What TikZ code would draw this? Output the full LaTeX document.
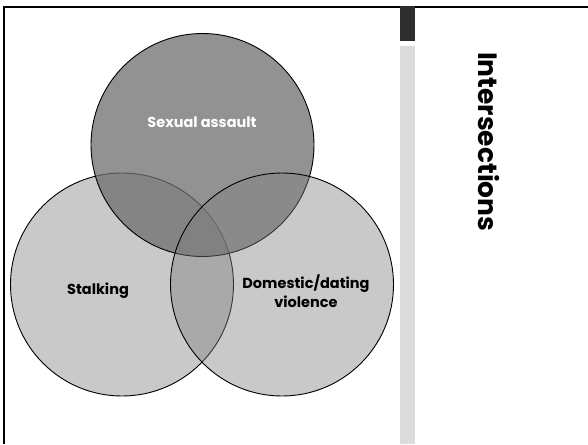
\documentclass[tikz,border=0pt]{standalone}
\usepackage{fontspec}
\setmainfont{Poppins}
\begin{document}
\begin{tikzpicture}[x=1pt,y=-1pt,
  venn/.style={circle,draw=black,line width=0.9pt,minimum size=223pt,inner sep=0pt},
  lightset/.style={venn,fill=lightfill,fill opacity=0.42},
  darkset/.style={venn,fill=darkfill,fill opacity=0.75},
  setlabel/.style={font=\bfseries\fontsize{14.5}{18.5}\selectfont,align=center,inner sep=0pt}]
\definecolor{lightfill}{RGB}{127,127,127}
\definecolor{darkfill}{RGB}{110,110,110}
\definecolor{barDark}{RGB}{45,45,45}
\definecolor{barLight}{RGB}{220,220,220}
\useasboundingbox (0,0) rectangle (588,444);
\fill[white] (0,0) rectangle (588,444);
% slide frame
\draw[line width=2pt] (4.3,444) -- (4.3,7) -- (588,7);
% side bars
\fill[barDark] (400,6.5) rectangle (415,40.7);
\fill[barLight] (400,46) rectangle (415,444);
% the three sets
\node[lightset] (stalk) at (122,284.5) {};
\node[darkset] (sa) at (202.5,145) {};
\node[lightset] (ddv) at (282,284.5) {};
% set labels
\node[setlabel,text=white] (lsa) at (202,122) {Sexual assault};
\node[setlabel] (lstalk) at (98,290.5) {Stalking};
\node[setlabel] (lddv) at (306,291) {Domestic/dating\\violence};
% title
\node[font=\bfseries\fontsize{26.5}{32}\selectfont,rotate=-90,inner sep=0pt] (title) at (489,141.7) {Intersections};
\end{tikzpicture}
\end{document}
